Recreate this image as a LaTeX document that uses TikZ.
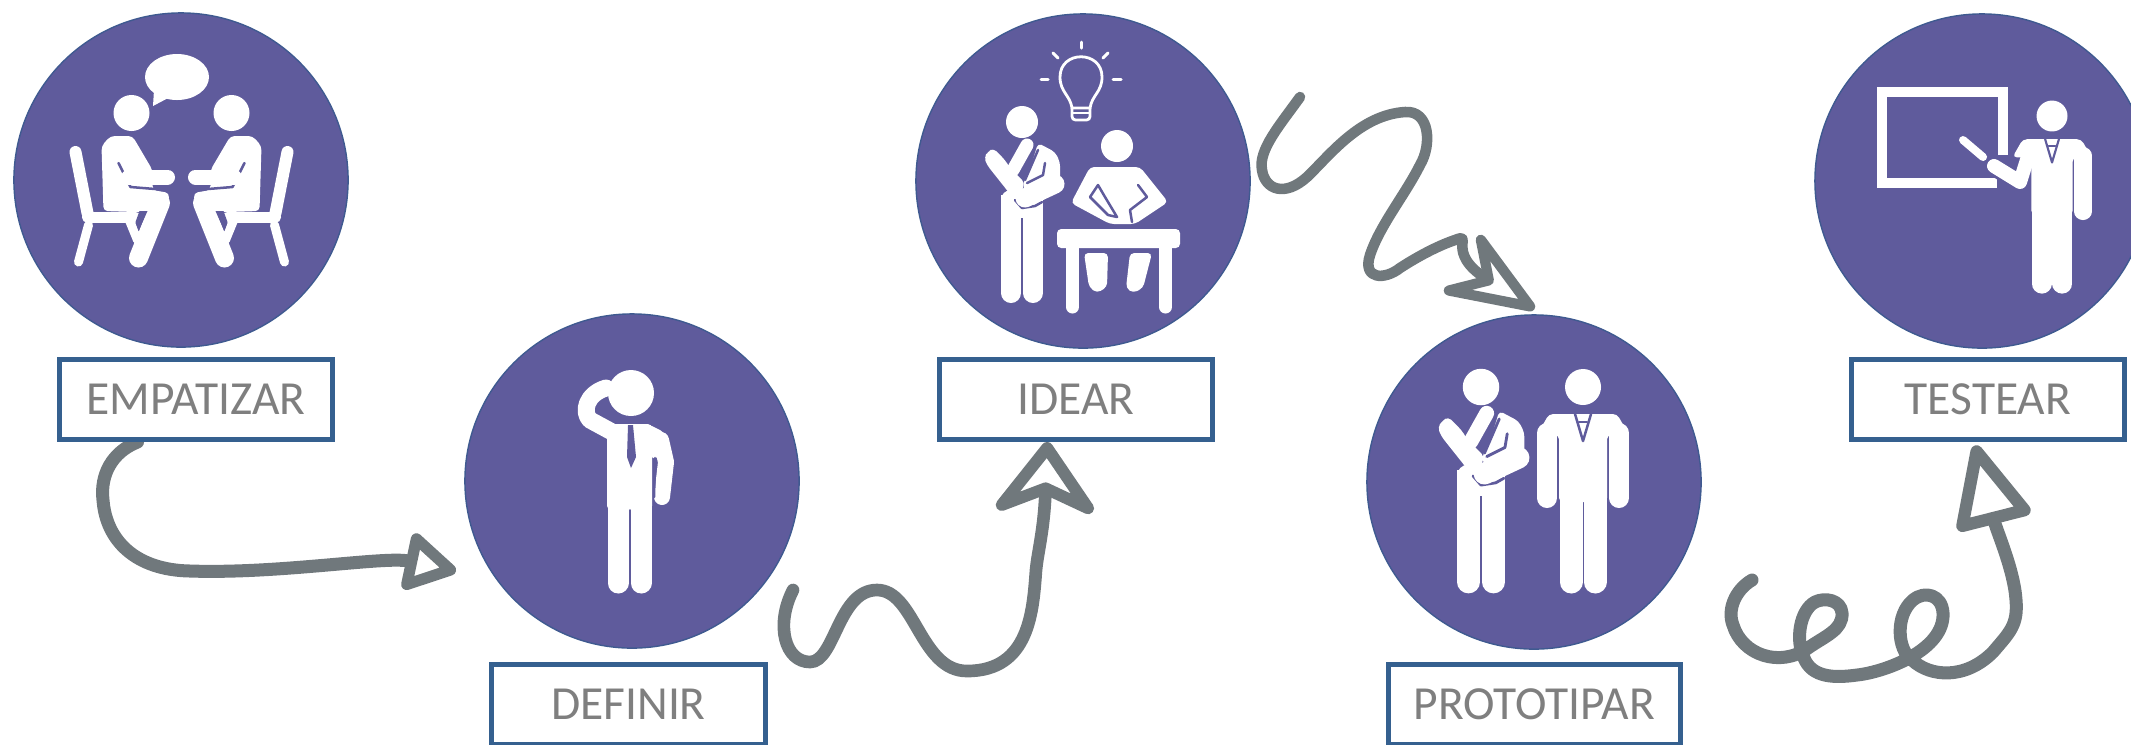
\documentclass[tikz,border=0pt]{standalone}
\usepackage{fontspec}
\setmainfont{Carlito}
\usetikzlibrary{arrows.meta,backgrounds}
\definecolor{stagefill}{HTML}{5F5B9C}
\definecolor{stageline}{HTML}{3F5A90}
\definecolor{boxline}{HTML}{35608F}
\definecolor{boxtext}{HTML}{7F7F7F}
\definecolor{arcgray}{HTML}{70787C}
\def\px{0.2845pt}
\tikzset{%
    % Pieces of the white figures
    limb/.style = {draw=white, line cap=round, line join=round, line width=#1*\px},
    gap/.style  = {draw=stagefill, line cap=round, line join=round, line width=#1*\px},
    fig/.style  = {fill=white, rounded corners=1.2pt}
}
% standing figure, hand on chin
\newcommand{\thinkerfig}[3]{%
	\begin{scope}[shift={(#1,#2)},scale=#3]
	\fill[white] (0,0) circle (16);
	\draw[limb=#3*20] (-11,78) -- (-11,171);
	\draw[limb=#3*20] (11,78) -- (11,171);
	\fill[white] (-21,73) rectangle (21,96);
	\fill[fig] (-29,26) -- (-17,38) -- (-12,46) -- (3,61) -- (-4,78) -- (-12,72) -- (-35,43) -- (-38,35) -- (-34,30) -- cycle;
	\fill[fig] (16,21) -- (33,30) -- (38,40) -- (38,68) -- (5,78) -- (1,61) -- (10,41) -- cycle;
	\draw[limb=#3*13] (-9,48) -- (5,23);
	\draw[gap=#3*2.5] (16,28) -- (3,58);
	\draw[gap=#3*2.5] (23,41) -- (21,53) -- (5,61);
	\draw[gap=#3*2.5] (-7,78) -- (0,86) -- (13,84) -- (20,80);
	\draw[limb=#3*19] (33,62) -- (3,76);
	\end{scope}}
% standing figure in a suit, the arms left out
\newcommand{\suitfig}[3]{%
	\begin{scope}[shift={(#1,#2)},scale=#3]
	\fill[white] (0,0) circle (18);
	\fill[fig] (-24,48) -- (-46,48) -- (-34,27) -- (34,27) -- (46,48) -- (24,48) -- (24,115) -- (-24,115) -- cycle;
	\draw[limb=#3*23] (-12,105) -- (-12,195);
	\draw[limb=#3*23] (12,105) -- (12,195);
	\draw[limb=#3*20] (36,46) -- (36,111);
	\draw[gap=#3*2.5] (-8,27) -- (0,54) -- (8,27);
	\draw[gap=#3*2.5] (-4,35) -- (4,35);
	\end{scope}}
% seated figure on a chair
\newcommand{\sitterfig}[2]{%
	\begin{scope}[shift={(#1,0)},xscale=#2]
	\fill[white] (-50,113) circle (18);
	\draw[limb=12] (-106,152) -- (-94,213);
	\draw[limb=11] (-94,217) -- (-46,217);
	\draw[limb=9] (-93,225) -- (-103,262);
	\draw[limb=9] (-53,218) -- (-44,240);
	\fill[fig] (-80,146) -- (-71,136) -- (-49,136) -- (-29,170) -- (-29,190) -- (-12,193) -- (-15,213) -- (-78,211) -- cycle;
	\draw[limb=19] (-21,203) -- (-43,258);
	\fill[stagefill] (-42,211) -- (-34,211) -- (-43,231) -- (-46,222) -- cycle;
	\draw[gap=2.5] (-63,163) -- (-51,187) -- (-14,190);
	\draw[limb=15] (-53,177) -- (-14,177);
	\end{scope}}
\begin{document}
\begin{tikzpicture}[x=0.01cm,y=-0.01cm]
	
	\tikzstyle{stage}=[circle, minimum size=3.34cm, inner sep=0pt, fill=stagefill, draw=stageline, line width=0.4pt]
	\tikzstyle{tag}=[rectangle, minimum width=2.73cm, minimum height=0.8cm, inner sep=0pt, fill=white, draw=boxline, line width=1.4pt, text=boxtext, font=\fontsize{13.5}{15}\selectfont]
	\tikzstyle{arc}=[draw=arcgray, line cap=round, line join=round]
	
	\useasboundingbox (0,0) rectangle (2131,744);
	\clip (0,0) rectangle (2131,744);
	
	% circles
	\node[stage] (empcirc) at (181,180) {};
	\node[stage] (defcirc) at (632,481) {};
	\node[stage] (idecirc) at (1083,181) {};
	\node[stage] (procirc) at (1534,482) {};
	\node[stage] (tescirc) at (1982,181) {};
	
	% labels
	\node[tag] (empbox) at (196,399.5) {EMPATIZAR};
	\node[tag] (idebox) at (1076,399.5) {IDEAR};
	\node[tag] (tesbox) at (1988,399.5) {TESTEAR};
	\node[tag] (defbox) at (628.5,704.5) {DEFINIR};
	\node[tag,minimum width=2.92cm] (probox) at (1534.5,704.5) {PROTOTIPAR};
	
	% connectors
	\coordinate (idestart) at (793,590);
	\coordinate (prostart) at (1300,97);
	\coordinate (tesstart) at (1752,580);
	\begin{scope}[on background layer]
	\draw[arc, line width=3.7pt, shorten >=11.7pt, -{Triangle[open,length=0.57cm,width=0.63cm,line width=3.2pt,round]}]
		(empbox.216) .. controls (112,452) and (100,475) .. (103,500) .. controls (106,540) and (135,570) .. (190,571)
		.. controls (280,574) and (385,556) .. (defcirc.216);
	\draw[arc, line width=3.6pt, -{Stealth[open,length=0.82cm,width=1.2cm,inset=0.25cm,line width=3.4pt,round]}]
		(idestart) .. controls (775,625) and (785,662) .. (810,662) .. controls (835,662) and (838,590) .. (877,590)
		.. controls (915,590) and (920,671) .. (967,671) .. controls (1030,671) and (1033,610) .. (1036,570)
		.. controls (1038,550) and (1044,530) .. (idebox.236);
	\draw[arc, line width=3pt, shorten >=2.8pt, -{Stealth[open,length=1.1cm,width=0.85cm,inset=0.4cm,line width=2.9pt,round]}]
		(prostart) .. controls (1280,125) and (1258,150) .. (1262,170) .. controls (1265,190) and (1285,197) .. (1307,177)
		.. controls (1330,155) and (1360,115) .. (1405,112) .. controls (1430,110) and (1432,145) .. (1420,165)
		.. controls (1405,195) and (1380,225) .. (1370,255) .. controls (1362,280) and (1385,280) .. (1400,268)
		.. controls (1420,255) and (1440,245) .. (1455,240) .. controls (1475,232) and (1444,252) .. (procirc.87);
	\draw[arc, line width=3.7pt, shorten >=1pt, -{Triangle[open,length=0.9cm,width=0.8cm,line width=3.5pt,round]}]
		(tesstart) .. controls (1735,590) and (1727,610) .. (1733,625) .. controls (1742,655) and (1780,668) .. (1808,648)
		.. controls (1825,636) and (1843,630) .. (1842,613) .. controls (1841,600) and (1825,597) .. (1815,602)
		.. controls (1800,610) and (1795,640) .. (1804,658) .. controls (1812,678) and (1835,678) .. (1857,675)
		.. controls (1885,672) and (1945,650) .. (1943,613) .. controls (1942,595) and (1925,590) .. (1913,600)
		.. controls (1895,615) and (1897,650) .. (1912,660) .. controls (1930,677) and (1965,680) .. (1993,652)
		.. controls (2010,632) and (2018,625) .. (2016,600) .. controls (2014,570) and (1997,532) .. (tesbox.252);
	\end{scope}
	
	% empatizar
	\fill[white] (177,77) ellipse (32 and 23);
	\fill[white] (154,90) -- (153,106) -- (170,97) -- cycle;
	\sitterfig{181.5}{1}
	\sitterfig{181.5}{-1}
	
	% definir
	\fill[white] (631,393) circle (23);
	\draw[limb=21] (618,435) -- (618,583);
	\draw[limb=21] (641,435) -- (641,583);
	\fill[fig] (607,424) -- (652,424) -- (652,510) -- (607,510) -- cycle;
	\draw[limb=17] (614,433) -- (590,420) .. controls (582,412) and (586,394) .. (606,388);
	\fill[fig] (648,424) -- (664,432) -- (670,450) -- (652,460) -- cycle;
	\draw[limb=16] (661,440) -- (666,462) -- (662,497);
	\draw[gap=2.5] (655,458) -- (654,497);
	\draw[gap=2] (630,510) -- (630,590);
	\fill[stagefill] (628,425) -- (633,425) -- (636,457) -- (631,468) -- (627,457) -- cycle;
	
	% idear
	\draw[white, line width=2.8*\px, rounded corners=1pt] (1072,108) -- (1072,120) -- (1090,120) -- (1090,108);
	\draw[white, line width=2.8*\px] (1072,108) .. controls (1070,95) and (1060,92) .. (1060,77) .. controls (1060,50) and (1102,50) .. (1102,77) .. controls (1102,92) and (1092,95) .. (1090,108) -- cycle;
	\draw[white, line width=2.5*\px] (1072,113) -- (1090,113);
	\draw[limb=3] (1081,42) -- (1081,48);
	\draw[limb=3] (1053,53) -- (1058,58);
	\draw[limb=3] (1108,53) -- (1103,58);
	\draw[limb=3] (1041,79) -- (1048,79);
	\draw[limb=3] (1113,79) -- (1121,79);
	\thinkerfig{1022}{122}{1}
	\fill[white] (1117,146) circle (16);
	\fill[fig] (1090,167) -- (1140,167) -- (1168,202) -- (1135,224) -- (1110,224) -- (1071,203) -- cycle;
	\draw[gap=2.5] (1090,197) -- (1098,185) -- (1105,197) -- (1117,217) -- (1108,215) -- cycle;
	\draw[gap=2.5] (1138,185) -- (1147,197) -- (1130,210) -- (1132,222);
	\fill[fig] (1057,229) rectangle (1180,248);
	\draw[limb=13] (1072.5,245) -- (1072.5,307);
	\draw[limb=13] (1165.5,245) -- (1165.5,307);
	\fill[fig] (1084,253) -- (1108,253) -- (1107,287) -- (1097,293) -- (1089,287) -- cycle;
	\fill[fig] (1130,253) -- (1152,253) -- (1143,288) -- (1133,293) -- (1126,288) -- cycle;
	
	% prototipar
	\thinkerfig{1481}{387}{1.14}
	\suitfig{1583}{387}{1}
	\draw[limb=20] (1547,433) -- (1547,498);
	
	% testear
	\draw[white, line width=10*\px] (2003,155) -- (2003,92) -- (1882,92) -- (1882,183) -- (1997,183);
	\suitfig{2052}{116}{0.86}
	\draw[limb=8] (1963,140) -- (1983,157);
	\draw[gap=20] (2018,180) -- (1994,166);
	\draw[limb=14] (2030,150) -- (2020,182) -- (1994,166);
\end{tikzpicture}
\end{document}
